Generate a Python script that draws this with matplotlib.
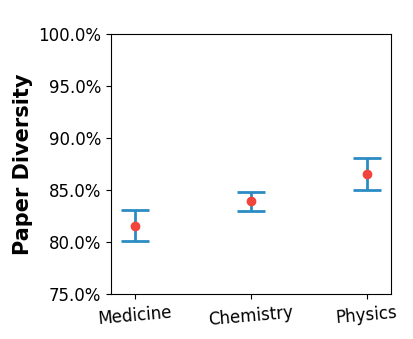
import numpy as np
import matplotlib.pyplot as plt
from matplotlib.ticker import PercentFormatter

fields = ["Medicine", "Chemistry", "Physics"]
mean = [81.5, 83.95, 86.5]     # % paper diversity
lower = [80.1, 82.95, 84.95]   # lower bound of interval
upper = [83.05, 84.8, 88.05]   # upper bound of interval

x = np.arange(len(fields))
err = [np.array(mean) - np.array(lower), np.array(upper) - np.array(mean)]

fig, ax = plt.subplots(figsize=(4.14, 3.39), dpi=100)
ax.errorbar(x, mean, yerr=err, fmt='none', ecolor='#2b8cc4', elinewidth=2,
            capsize=10, capthick=2)
ax.plot(x, mean, 'o', color='#f1453b', markersize=6, zorder=3)

ax.set_xlim(-0.21, 2.21)
ax.set_ylim(75, 100)
ax.set_yticks(np.arange(75, 100.1, 5))
ax.yaxis.set_major_formatter(PercentFormatter(decimals=1))
ax.set_xticks(x)
ax.set_xticklabels(fields, rotation=5)
ax.tick_params(labelsize=12)
ax.set_ylabel("Paper Diversity", fontsize=15, fontweight='bold')

fig.subplots_adjust(left=0.268, right=0.944, top=0.9, bottom=0.133)
fig.savefig("out.png", dpi=100)
